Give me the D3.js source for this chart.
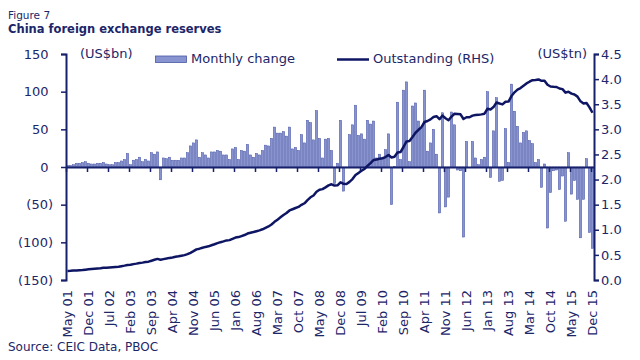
<!DOCTYPE html>
<html><head><meta charset="utf-8">
<script src="https://cdn.jsdelivr.net/npm/d3@7"></script>
<style>
html,body{margin:0;padding:0;background:#fff;}
svg{display:block;font-family:"DejaVu Sans",Verdana,sans-serif;}
</style></head>
<body><svg id="c" width="640" height="360"></svg>
<script>
// Monthly change in reserves, US$bn, May 2001 .. Dec 2015
const monthlyChange = [
  2,2,3,5,5,6,7,5,4,4,5,5,6,4,3,3,6,6,8,10,18,
  3,9,10,13,7,10,8,19,17,20,-17,
  12,11,13,9,9,9,12,12,19,28,32,36,
  13,19,16,12,20,20,22,21,16,16,10,24,
  26,10,22,21,30,16,13,18,16,22,29,28,
  38,53,45,45,47,41,53,24,26,22,43,32,
  62,59,36,75,38,12,37,38,22,-22,5,62,
  -32,-1,43,56,82,42,44,37,62,57,61,12,
  17,12,23,44,-50,1,86,10,102,113,7,81,
  85,61,52,102,21,32,50,17,-61,72,-53,-40,
  73,56,-4,-5,-93,34,0,34,12,3,10,13,
  100,-14,48,92,-19,-18,51,6,110,74,54,32,
  46,48,35,31,6,10,-27,4,-81,-34,-5,-4,
  -30,-12,-72,19,-36,-18,-43,-94,-43,11,-87,-108
];
// Outstanding reserves, US$tn (RHS)
const outstanding = [
  0.180,0.182,0.187,0.191,0.196,0.200,0.206,0.212,
  0.219,0.223,0.228,0.233,0.242,0.243,0.247,0.252,0.258,0.265,0.275,0.286,
  0.299,0.302,0.316,0.326,0.340,0.346,0.357,0.365,0.384,0.402,0.420,0.403,
  0.416,0.427,0.440,0.449,0.461,0.471,0.483,0.495,0.515,0.542,0.574,0.610,
  0.624,0.643,0.659,0.670,0.691,0.711,0.733,0.753,0.769,0.788,0.794,0.819,
  0.845,0.854,0.875,0.895,0.925,0.941,0.955,0.972,0.988,1.010,1.039,1.066,
  1.105,1.158,1.202,1.247,1.293,1.333,1.385,1.409,1.434,1.455,1.497,1.528,
  1.590,1.647,1.682,1.757,1.797,1.809,1.845,1.884,1.906,1.880,1.885,1.946,
  1.914,1.912,1.954,2.009,2.090,2.132,2.175,2.211,2.273,2.328,2.389,2.399,
  2.415,2.425,2.447,2.490,2.440,2.454,2.539,2.548,2.648,2.760,2.768,2.847,
  2.932,2.991,3.045,3.146,3.166,3.198,3.245,3.262,3.202,3.274,3.221,3.181,
  3.254,3.310,3.305,3.299,3.206,3.240,3.240,3.273,3.285,3.288,3.298,3.312,
  3.410,3.395,3.443,3.535,3.515,3.497,3.548,3.553,3.663,3.737,3.790,3.821,
  3.867,3.914,3.948,3.979,3.984,3.993,3.966,3.969,3.888,3.853,3.847,3.843,
  3.813,3.801,3.730,3.748,3.711,3.694,3.651,3.557,3.514,3.525,3.438,3.330
];
const xTickLabels = ["May 01","Dec 01","Jul 02","Feb 03","Sep 03","Apr 04","Nov 04","Jun 05",
  "Jan 06","Aug 06","Mar 07","Oct 07","May 08","Dec 08","Jul 09","Feb 10","Sep 10","Apr 11",
  "Nov 11","Jun 12","Jan 13","Aug 13","Mar 14","Oct 14","May 15","Dec 15"];
const leftTicks = [-150,-100,-50,0,50,100,150];
const rightTicks = [0,0.5,1,1.5,2,2.5,3,3.5,4,4.5];

const fmtMonth = d3.timeFormat("%b %y");
const months = d3.timeMonth.range(new Date(2001,4,1), new Date(2016,0,1)).map(fmtMonth);

const navy = "#17206b", textCol = "#1c2669";
const barFill = "#8794cf", barStroke = "#4a57a5", lineCol = "#0e1664";
const L = 66, R = 594, T = 54, B = 280;

const svg = d3.select("#c");
const x = d3.scaleBand().domain(months).range([L, R]).paddingInner(0.2).paddingOuter(0.1);
const xi = d3.scaleLinear().domain([0, months.length]).range([L, R]);
const yL = d3.scaleLinear().domain([-150,150]).range([B, T]);
const yR = d3.scaleLinear().domain([0,4.5]).range([B, T]);

// titles
svg.append("text").attr("x",8).attr("y",19).attr("font-size",10.5).attr("fill",textCol).text("Figure 7");
svg.append("text").attr("x",8).attr("y",32.5).attr("font-size",11.5).attr("font-weight","bold").attr("fill",textCol).text("China foreign exchange reserves");
svg.append("text").attr("x",8).attr("y",351).attr("font-size",12).attr("fill",textCol).text("Source: CEIC Data, PBOC");

// units
svg.append("text").attr("x",80).attr("y",57.5).attr("font-size",13).attr("fill",textCol).text("(US$bn)");
svg.append("text").attr("x",587).attr("y",57.5).attr("text-anchor","end").attr("font-size",13).attr("fill",textCol).text("(US$tn)");

// legend
svg.append("rect").attr("x",155.5).attr("y",56).attr("width",31).attr("height",6.5)
  .attr("fill",barFill).attr("stroke",barStroke).attr("stroke-width",0.8);
svg.append("text").attr("x",191).attr("y",62.5).attr("font-size",13).attr("fill",textCol).text("Monthly change");
svg.append("line").attr("x1",337).attr("x2",369).attr("y1",59.5).attr("y2",59.5)
  .attr("stroke",lineCol).attr("stroke-width",2.5);
svg.append("text").attr("x",373).attr("y",62.5).attr("font-size",13).attr("fill",textCol).text("Outstanding (RHS)");

// bars
svg.append("g").selectAll("rect").data(monthlyChange).join("rect")
  .attr("x",(d,i)=>x(months[i]))
  .attr("width",x.bandwidth())
  .attr("y",d=>yL(Math.max(0,d)))
  .attr("height",d=>Math.abs(yL(d)-yL(0)))
  .attr("fill",barFill).attr("stroke",barStroke).attr("stroke-width",0.5);

// left axis
const gl = svg.append("g").attr("transform",`translate(${L},0)`)
  .call(d3.axisLeft(yL).tickValues(leftTicks).tickSize(5).tickPadding(8)
    .tickFormat(d=>d<0?`(${-d})`:d));
gl.selectAll("text").attr("x",d=>d<0?-13:-17.5);
// right axis
const gr = svg.append("g").attr("transform",`translate(${R},0)`)
  .call(d3.axisRight(yR).tickValues(rightTicks).tickSize(5).tickPadding(2).tickFormat(d3.format(".1f")));
[gl,gr].forEach(g=>{
  g.select(".domain").attr("stroke",navy).attr("stroke-width",2);
  g.selectAll(".tick line").attr("stroke",navy).attr("stroke-width",1.5);
  g.selectAll("text").attr("fill",textCol).attr("font-size",13).attr("font-family","DejaVu Sans");
});

// zero axis with ticks every 7 months
const tickIdx = xTickLabels.map(l=>months.indexOf(l));
const gz = svg.append("g").attr("transform",`translate(0,${yL(0)})`)
  .call(d3.axisBottom(xi).tickValues(tickIdx).tickSize(5).tickSizeOuter(0).tickFormat(""));
gz.select(".domain").attr("stroke",navy).attr("stroke-width",2);
gz.selectAll(".tick line").attr("stroke",navy).attr("stroke-width",1.5);

// category labels at the bottom
const gx = svg.append("g").attr("transform",`translate(0,${B})`)
  .call(d3.axisBottom(x).tickValues(xTickLabels).tickSize(0));
gx.select(".domain").remove();
gx.selectAll("text").attr("transform","rotate(-90)").attr("x",-10).attr("y",0).attr("dy","0.35em")
  .attr("text-anchor","end").attr("fill",textCol).attr("font-size",13).attr("font-family","DejaVu Sans");

// line
svg.append("path").datum(outstanding)
  .attr("d", d3.line().x((d,i)=>x(months[i])+x.bandwidth()/2).y(d=>yR(d)).curve(d3.curveLinear))
  .attr("fill","none").attr("stroke",lineCol).attr("stroke-width",2.5).attr("stroke-linejoin","round");
</script></body></html>
